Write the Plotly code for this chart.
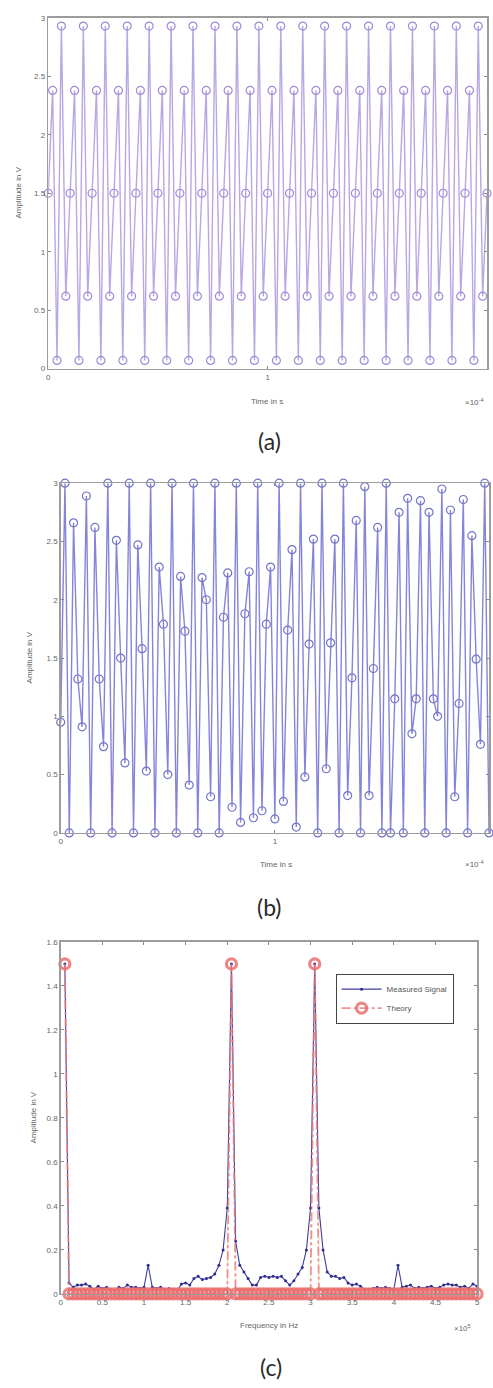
import plotly.graph_objects as go

W, H = 493, 1388

# ---------------- data ----------------
sample_period_s = 2e-6
sample_index = list(range(101))
time_a = [n * sample_period_s for n in sample_index]
amp_a = [
    1.50, 2.38, 0.07, 2.93, 0.62,  1.50, 2.38, 0.07, 2.93, 0.62,
    1.50, 2.38, 0.07, 2.93, 0.62,  1.50, 2.38, 0.07, 2.93, 0.62,
    1.50, 2.38, 0.07, 2.93, 0.62,  1.50, 2.38, 0.07, 2.93, 0.62,
    1.50, 2.38, 0.07, 2.93, 0.62,  1.50, 2.38, 0.07, 2.93, 0.62,
    1.50, 2.38, 0.07, 2.93, 0.62,  1.50, 2.38, 0.07, 2.93, 0.62,
    1.50, 2.38, 0.07, 2.93, 0.62,  1.50, 2.38, 0.07, 2.93, 0.62,
    1.50, 2.38, 0.07, 2.93, 0.62,  1.50, 2.38, 0.07, 2.93, 0.62,
    1.50, 2.38, 0.07, 2.93, 0.62,  1.50, 2.38, 0.07, 2.93, 0.62,
    1.50, 2.38, 0.07, 2.93, 0.62,  1.50, 2.38, 0.07, 2.93, 0.62,
    1.50, 2.38, 0.07, 2.93, 0.62,  1.50, 2.38, 0.07, 2.93, 0.62,
    1.50,
]

time_b = [n * sample_period_s for n in sample_index]
amp_b = [
    0.95, 3.00, 0.00, 2.66, 1.32,  0.91, 2.89, 0.00, 2.62, 1.32,
    0.74, 3.00, 0.00, 2.51, 1.50,  0.60, 3.00, 0.00, 2.47, 1.58,
    0.53, 3.00, 0.00, 2.28, 1.79,  0.50, 3.00, 0.00, 2.20, 1.73,
    0.41, 3.00, 0.00, 2.19, 2.00,  0.31, 3.00, 0.00, 1.85, 2.23,
    0.22, 3.00, 0.09, 1.88, 2.24,  0.13, 3.00, 0.19, 1.79, 2.28,
    0.12, 3.00, 0.27, 1.74, 2.43,  0.05, 3.00, 0.48, 1.62, 2.52,
    0.00, 3.00, 0.55, 1.63, 2.52,  0.00, 3.00, 0.32, 1.33, 2.68,
    0.00, 2.97, 0.32, 1.41, 2.62,  0.00, 3.00, 0.00, 1.15, 2.75,
    0.00, 2.87, 0.85, 1.15, 2.85,  0.00, 2.75, 1.15, 1.00, 2.95,
    0.00, 2.77, 0.31, 1.11, 2.86,  0.00, 2.55, 1.49, 0.76, 3.00,
    0.00,
]

freq_bin_hz = 5000
freq_c = [k * freq_bin_hz for k in range(1, 101)]
measured_c = [
    1.50, 0.05, 0.03, 0.04, 0.04, 0.045, 0.035, 0.02, 0.035, 0.025,
    0.03, 0.02, 0.015, 0.03, 0.025, 0.04, 0.03, 0.03, 0.025, 0.03,
    0.13, 0.03, 0.025, 0.03, 0.02, 0.025, 0.02, 0.015, 0.045, 0.05,
    0.04, 0.07, 0.08, 0.065, 0.07, 0.075, 0.09, 0.13, 0.20, 0.39,
    1.50, 0.24, 0.13, 0.10, 0.07, 0.04, 0.04, 0.075, 0.08, 0.075,
    0.08, 0.075, 0.08, 0.06, 0.04, 0.06, 0.09, 0.12, 0.20, 0.39,
    1.50, 0.39, 0.20, 0.10, 0.08, 0.08, 0.07, 0.075, 0.05, 0.04,
    0.045, 0.035, 0.02, 0.02, 0.025, 0.03, 0.025, 0.03, 0.025, 0.02,
    0.13, 0.03, 0.035, 0.04, 0.025, 0.03, 0.025, 0.03, 0.035, 0.025,
    0.03, 0.04, 0.045, 0.04, 0.04, 0.03, 0.035, 0.025, 0.045, 0.035,
]
theory_c = [
    1.5, 0, 0, 0, 0, 0, 0, 0, 0, 0,
    0, 0, 0, 0, 0, 0, 0, 0, 0, 0,
    0, 0, 0, 0, 0, 0, 0, 0, 0, 0,
    0, 0, 0, 0, 0, 0, 0, 0, 0, 0,
    1.5, 0, 0, 0, 0, 0, 0, 0, 0, 0,
    0, 0, 0, 0, 0, 0, 0, 0, 0, 0,
    1.5, 0, 0, 0, 0, 0, 0, 0, 0, 0,
    0, 0, 0, 0, 0, 0, 0, 0, 0, 0,
    0, 0, 0, 0, 0, 0, 0, 0, 0, 0,
    0, 0, 0, 0, 0, 0, 0, 0, 0, 0,
]
guide_freq = [200000, 210000, 300000, 310000]
guide_top = [0.38, 0.38, 0.38, 0.38]

amp_ticks_ab = [0, 0.5, 1, 1.5, 2, 2.5, 3]
amp_ticks_c = [0, 0.2, 0.4, 0.6, 0.8, 1.0, 1.2, 1.4, 1.6]
time_ticks = [0, 1e-4]
time_ticktext = ["0", "1"]
freq_ticks = [0, 50000, 100000, 150000, 200000, 250000, 300000, 350000, 400000, 450000, 500000]
freq_ticktext = ["0", "0.5", "1", "1.5", "2", "2.5", "3", "3.5", "4", "4.5", "5"]

# ---------------- helpers ----------------
def px(x):
    return x / W

def py(y):
    return 1 - y / H

TICKFONT = dict(family="Liberation Sans, Arial, sans-serif", size=8, color="#666666")

def axis(domain, anchor, **kw):
    d = dict(domain=domain, anchor=anchor, showline=True, linecolor="#9c9c9c", linewidth=1.5,
             mirror="ticks", ticks="inside", ticklen=3, tickcolor="#8a8a8a",
             showgrid=False, zeroline=False, tickfont=TICKFONT, fixedrange=True)
    d.update(kw)
    return d

# ---------------- figure ----------------
fig = go.Figure()

# Panel (a)
fig.add_trace(go.Scatter(
    x=time_a, y=amp_a, mode="lines+markers", xaxis="x", yaxis="y",
    line=dict(color="#b9a6e4", width=1.4),
    marker=dict(symbol="circle-open", size=8, color="#9f8ad6", line=dict(width=1.2)),
    cliponaxis=False, showlegend=False))

# Panel (b)
fig.add_trace(go.Scatter(
    x=time_b, y=amp_b, mode="lines+markers", xaxis="x2", yaxis="y2",
    line=dict(color="#8484da", width=1.4),
    marker=dict(symbol="circle-open", size=8, color="#7474c8", line=dict(width=1.2)),
    cliponaxis=False, showlegend=False))

# Panel (c)
fig.add_trace(go.Scatter(
    x=[v for f in guide_freq for v in (f, f, None)],
    y=[v for t in guide_top for v in (0, t, None)],
    mode="lines", xaxis="x3", yaxis="y3",
    line=dict(color="#f1d9a8", width=1, dash="dot"),
    showlegend=False, hoverinfo="skip"))
fig.add_trace(go.Scatter(
    x=freq_c, y=measured_c, mode="lines+markers", name="Measured Signal", xaxis="x3", yaxis="y3",
    line=dict(color="#3e3ea0", width=1.1),
    marker=dict(symbol="circle", size=3, color="#2e2e8c"),
    cliponaxis=False))
fig.add_trace(go.Scatter(
    x=freq_c, y=theory_c, mode="lines+markers", name="Theory", xaxis="x3", yaxis="y3",
    line=dict(color="rgba(233,120,120,0.8)", width=1.8, dash="dashdot"),
    marker=dict(symbol="circle-open", size=10, color="rgba(234,112,112,0.85)", line=dict(width=3.2)),
    cliponaxis=False))

fig.update_layout(
    width=W, height=H,
    margin=dict(l=0, r=0, t=0, b=0),
    paper_bgcolor="white", plot_bgcolor="white",
    xaxis=axis([px(46.7), px(490)], "y", range=[0, 2e-4], tickvals=time_ticks, ticktext=time_ticktext),
    yaxis=axis([py(367), py(14)], "x", range=[0, 3], tickvals=amp_ticks_ab,
               ticktext=[f"{v:g}" for v in amp_ticks_ab]),
    xaxis2=axis([px(59.3), px(492)], "y2", range=[0, 2e-4], tickvals=time_ticks, ticktext=time_ticktext),
    yaxis2=axis([py(834.3), py(482.3)], "x2", range=[0, 3], tickvals=amp_ticks_ab,
                ticktext=[f"{v:g}" for v in amp_ticks_ab]),
    xaxis3=axis([px(59.3), px(480)], "y3", range=[0, 500000], tickvals=freq_ticks, ticktext=freq_ticktext),
    yaxis3=axis([py(1298.3), py(944)], "x3", range=[0, 1.6], tickvals=amp_ticks_c,
                ticktext=[f"{v:g}" for v in amp_ticks_c]),
    legend=dict(x=px(337), y=py(976), xanchor="left", yanchor="top",
                bgcolor="white", bordercolor="#444444", borderwidth=1,
                font=dict(family="Liberation Sans, Arial, sans-serif", size=8, color="#555555"),
                itemwidth=40),
)

LABEL = dict(family="Liberation Sans, Arial, sans-serif", size=8, color="#666666")
CAP = dict(family="Lato, Open Sans, sans-serif", size=23, color="#2a2a2a")

def ann(x, y, text, font, angle=0):
    fig.add_annotation(x=px(x), y=py(y), xref="paper", yref="paper", text=text,
                       showarrow=False, font=font, textangle=angle,
                       xanchor="center", yanchor="middle")

ann(17, 190, "Amplitude in V", LABEL, -90)
ann(268, 400, "Time in s", LABEL)
ann(477, 401, "×10<sup>-4</sup>", LABEL)
ann(270, 440, "(a)", CAP)

ann(28, 658, "Amplitude in V", LABEL, -90)
ann(277, 866, "Time in s", LABEL)
ann(477, 866, "×10<sup>-4</sup>", LABEL)
ann(270, 909, "(b)", CAP)

ann(32, 1121, "Amplitude in V", LABEL, -90)
ann(270, 1330, "Frequency in Hz", LABEL)
ann(465, 1333, "×10<sup>5</sup>", LABEL)
ann(272, 1372, "(c)", CAP)

fig.write_html(
    "out.html",
    config={"displayModeBar": False, "staticPlot": True},
    post_script="document.body.style.margin='0';document.body.style.overflow='hidden';",
)
